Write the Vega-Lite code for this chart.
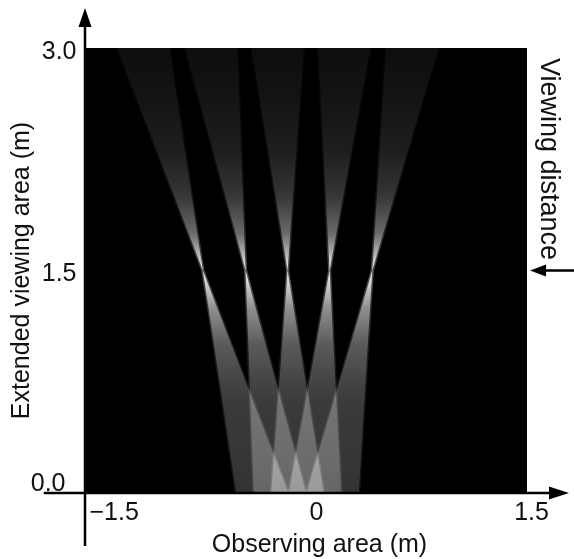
{
  "$schema": "https://vega.github.io/schema/vega-lite/v6.json",
  "width": 442,
  "height": 445,
  "autosize": {"type": "none"},
  "padding": {"left": 85, "top": 48, "right": 47, "bottom": 66},
  "background": "white",
  "config": {
    "view": {"fill": "black", "stroke": null},
    "font": "Liberation Sans"
  },
  "datasets": {
    "beams": [
      {"beam": 1, "y": 0, "xl": -0.474, "xr": -0.119},
      {"beam": 1, "y": 1.5, "xl": -0.7, "xr": -0.7},
      {"beam": 1, "y": 3, "xl": -1.282, "xr": -0.927},
      {"beam": 2, "y": 0, "xl": -0.355, "xr": 0.001},
      {"beam": 2, "y": 1.5, "xl": -0.41, "xr": -0.41},
      {"beam": 2, "y": 3, "xl": -0.821, "xr": -0.466},
      {"beam": 3, "y": 0, "xl": -0.236, "xr": 0.12},
      {"beam": 3, "y": 1.5, "xl": -0.125, "xr": -0.125},
      {"beam": 3, "y": 3, "xl": -0.37, "xr": -0.015},
      {"beam": 4, "y": 0, "xl": -0.117, "xr": 0.239},
      {"beam": 4, "y": 1.5, "xl": 0.16, "xr": 0.16},
      {"beam": 4, "y": 3, "xl": 0.082, "xr": 0.437},
      {"beam": 5, "y": 0, "xl": 0.003, "xr": 0.358},
      {"beam": 5, "y": 1.5, "xl": 0.45, "xr": 0.45},
      {"beam": 5, "y": 3, "xl": 0.543, "xr": 0.898}
    ],
    "lines": [
      {"x": -1.78, "x2": 1.7, "y": 0, "y2": 0},
      {"x": -1.5, "x2": -1.5, "y": -0.357, "y2": 3.15},
      {"x": 1.6, "x2": 1.9, "y": 1.5, "y2": 1.5}
    ],
    "heads": [
      {"dir": "up", "x": -1.5, "y": 3.202},
      {"dir": "right", "x": 1.717, "y": 0},
      {"dir": "left", "x": 1.575, "y": 1.5}
    ],
    "notes": [
      {"label": "Viewing distance", "x": 1.649, "y": 2.252}
    ]
  },
  "layer": [
    {
      "data": {"name": "beams"},
      "mark": {
        "type": "area",
        "orient": "horizontal",
        "blend": "plus-lighter",
        "fill": {
          "gradient": "linear", "x1": 0, "y1": 0, "x2": 0, "y2": 1,
          "stops": [
            {"offset": 0, "color": "#0e0e0e"},
            {"offset": 0.1, "color": "#131313"},
            {"offset": 0.233, "color": "#1e1e1e"},
            {"offset": 0.333, "color": "#363636"},
            {"offset": 0.417, "color": "#6a6a6a"},
            {"offset": 0.467, "color": "#bababa"},
            {"offset": 0.5, "color": "#f5f5f5"},
            {"offset": 0.533, "color": "#cccccc"},
            {"offset": 0.583, "color": "#909090"},
            {"offset": 0.667, "color": "#5a5a5a"},
            {"offset": 0.75, "color": "#444444"},
            {"offset": 0.8, "color": "#3a3a3a"},
            {"offset": 1, "color": "#333333"}
          ]
        },
        "stroke": {
          "gradient": "linear", "x1": 0, "y1": 0, "x2": 0, "y2": 1,
          "stops": [
            {"offset": 0, "color": "#0e0e0e"},
            {"offset": 0.1, "color": "#131313"},
            {"offset": 0.233, "color": "#1e1e1e"},
            {"offset": 0.333, "color": "#363636"},
            {"offset": 0.417, "color": "#6a6a6a"},
            {"offset": 0.467, "color": "#bababa"},
            {"offset": 0.5, "color": "#f5f5f5"},
            {"offset": 0.533, "color": "#cccccc"},
            {"offset": 0.583, "color": "#909090"},
            {"offset": 0.667, "color": "#5a5a5a"},
            {"offset": 0.75, "color": "#444444"},
            {"offset": 0.8, "color": "#3a3a3a"},
            {"offset": 1, "color": "#333333"}
          ]
        },
        "strokeWidth": 3,
        "strokeOpacity": 0.35
      },
      "encoding": {
        "y": {
          "field": "y", "type": "quantitative",
          "scale": {"domain": [0, 3], "nice": false, "zero": false},
          "axis": {
            "values": [0, 1.5, 3],
            "title": "Extended viewing area (m)",
            "domain": false, "ticks": false, "grid": false,
            "labelFlush": false, "labelOverlap": false, "labelBound": false,
            "labelFontSize": 25, "labelColor": "#111",
            "labelExpr": "format(datum.value, '.1f')",
            "labelBaseline": "middle",
            "labelPadding": {"condition": {"test": "datum.value == 0", "value": 20}, "value": 9},
            "labelOffset": {"condition": {"test": "datum.value == 0", "value": -11}, "value": 2},
            "titleFontSize": 25, "titleFontWeight": "normal", "titleColor": "#111",
            "titleX": -65, "titleY": 222, "titleBaseline": "middle", "titleAlign": "center", "titleAngle": -90
          }
        },
        "x": {
          "field": "xl", "type": "quantitative", "stack": null,
          "scale": {"domain": [-1.5, 1.5], "nice": false, "zero": false},
          "axis": {
            "values": [-1.5, 0, 1.5],
            "title": "Observing area (m)",
            "domain": false, "ticks": false, "grid": false,
            "labelFlush": false, "labelOverlap": false, "labelBound": false,
            "labelFontSize": 25, "labelColor": "#111",
            "labelPadding": 6,
            "labelExpr": "datum.value == 0 ? '0' : format(datum.value, '.1f')",
            "labelAlign": {"condition": {"test": "datum.value < -1", "value": "left"}, "value": "center"},
            "labelOffset": {"condition": {"test": "datum.value == 0", "value": 10}, "value": 4},
            "titleFontSize": 25, "titleFontWeight": "normal", "titleColor": "#111",
            "titleX": 234, "titleY": 50, "titleBaseline": "middle", "titleAlign": "center"
          }
        },
        "x2": {"field": "xr"},
        "detail": {"field": "beam"}
      }
    },
    {
      "data": {"name": "lines"},
      "mark": {"type": "rule", "color": "black", "strokeWidth": 2.5},
      "encoding": {
        "x": {"field": "x", "type": "quantitative"},
        "x2": {"field": "x2"},
        "y": {"field": "y", "type": "quantitative"},
        "y2": {"field": "y2"}
      }
    },
    {
      "data": {"name": "heads"},
      "mark": {"type": "point", "filled": true, "color": "black", "opacity": 1, "size": 400, "strokeWidth": 0},
      "encoding": {
        "x": {"field": "x", "type": "quantitative"},
        "y": {"field": "y", "type": "quantitative"},
        "shape": {
          "field": "dir", "type": "nominal", "legend": null,
          "scale": {
            "domain": ["up", "right", "left"],
            "range": ["M0,-1L0.65,0.9L-0.65,0.9Z", "M1,0L-1,0.65L-1,-0.65Z", "M-0.8,0L0.8,0.6L0.8,-0.6Z"]
          }
        }
      }
    },
    {
      "data": {"name": "notes"},
      "mark": {"type": "text", "angle": 90, "fontSize": 27, "align": "center", "baseline": "middle", "color": "#111", "font": "Liberation Sans"},
      "encoding": {
        "x": {"field": "x", "type": "quantitative"},
        "y": {"field": "y", "type": "quantitative"},
        "text": {"field": "label"}
      }
    }
  ]
}
